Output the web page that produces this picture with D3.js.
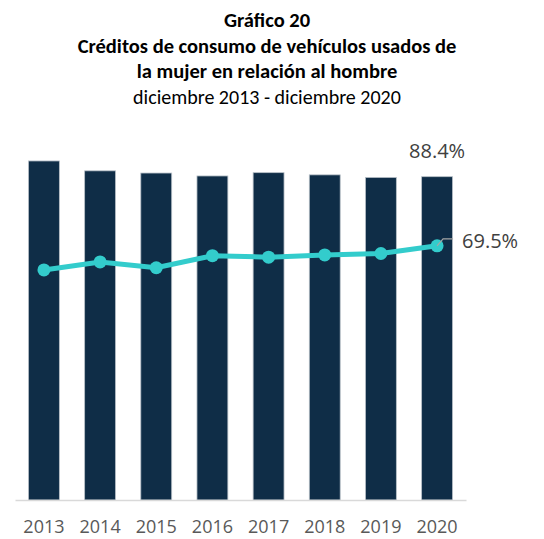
<!DOCTYPE html>
<html>
<head>
<meta charset="utf-8">
<script src="https://cdn.jsdelivr.net/npm/d3@7"></script>
<style>
  body { margin: 0; background: #fff; }
  svg text { font-family: "Open Sans", sans-serif; }
</style>
</head>
<body>
<div id="chart"></div>
<script>
const years = ["2013", "2014", "2015", "2016", "2017", "2018", "2019", "2020"]
// bars: share of amount, line: share of number of credits (same % axis)
const barValues = [92.7, 90.0, 89.4, 88.6, 89.5, 88.9, 88.2, 88.4]
const lineValues = [62.9, 65.1, 63.5, 66.8, 66.4, 67.0, 67.4, 69.5]
const titleLines = ["Gráfico 20", "Créditos de consumo de vehículos usados de", "la mujer en relación al hombre"]
const subtitle = "diciembre 2013 - diciembre 2020"

const width = 544
const height = 539
const margin = { left: 15, right: 78, top: 120, bottom: 39 }

const svg = d3.select("#chart").append("svg")
  .attr("width", width)
  .attr("height", height)

// titles
const titleY = [27, 53, 78]
titleLines.forEach((t, i) => {
  svg.append("text")
    .attr("x", 267).attr("y", titleY[i])
    .attr("text-anchor", "middle")
    .style("font-family", "Carlito, 'Open Sans', sans-serif")
    .style("font-weight", "bold")
    .style("font-size", "20.5px")
    .style("fill", "#000")
    .text(t)
})
svg.append("text")
  .attr("x", 267).attr("y", 104)
  .attr("text-anchor", "middle")
  .style("font-family", "Carlito, 'Open Sans', sans-serif")
  .style("font-size", "20px")
  .style("fill", "#000")
  .text(subtitle)

const x = d3.scaleBand().domain(years).range([margin.left, width - margin.right]).paddingInner(0.45).paddingOuter(0.24)
const y = d3.scaleLinear().domain([0, 103.9]).range([height - margin.bottom, margin.top])

// bars
svg.selectAll(".bar")
  .data(years)
  .enter()
  .append("rect")
  .attr("class", "bar")
  .attr("x", d => x(d))
  .attr("y", (d, i) => y(barValues[i]))
  .attr("width", x.bandwidth())
  .attr("height", (d, i) => y(0) - y(barValues[i]))
  .style("fill", "#0f2d47")
  .style("stroke", "#b8c0c8")
  .style("stroke-width", 0.8)

// x axis
const xAxis = svg.append("g")
  .attr("transform", "translate(0," + y(0) + ")")
  .call(d3.axisBottom(x).tickSize(0).tickPadding(20))
xAxis.select(".domain").attr("stroke", "#d9d9d9").attr("stroke-width", 1.5)
xAxis.selectAll("text").style("font-size", "18px").style("fill", "#595959").style("font-family", "'Open Sans', sans-serif")

// line
const cx = d => x(d) + x.bandwidth() / 2
const line = d3.line().x(d => cx(d)).y((d, i) => y(lineValues[i]))
svg.append("path")
  .datum(years)
  .attr("d", line)
  .style("fill", "none")
  .style("stroke", "#33cccc")
  .style("stroke-width", 5)

svg.selectAll(".dot")
  .data(years)
  .enter()
  .append("circle")
  .attr("cx", d => cx(d))
  .attr("cy", (d, i) => y(lineValues[i]))
  .attr("r", 6.5)
  .style("fill", "#33cccc")

// labels for last year
const last = years.length - 1
svg.append("text")
  .attr("x", cx(years[last]))
  .attr("y", y(barValues[last]) - 19)
  .attr("text-anchor", "middle")
  .style("font-size", "20px")
  .style("fill", "#404040")
  .text(barValues[last].toFixed(1) + "%")

const lx = cx(years[last])
const ly = y(lineValues[last])
svg.append("path")
  .attr("d", `M${lx},${ly} L${lx + 6},${ly - 7} L${lx + 16},${ly - 7}`)
  .style("fill", "none")
  .style("stroke", "#a6a6a6")
  .style("stroke-width", 1.2)
svg.append("text")
  .attr("x", lx + 25)
  .attr("y", ly + 2)
  .style("font-size", "20px")
  .style("fill", "#404040")
  .text(lineValues[last].toFixed(1) + "%")
</script>
</body>
</html>
